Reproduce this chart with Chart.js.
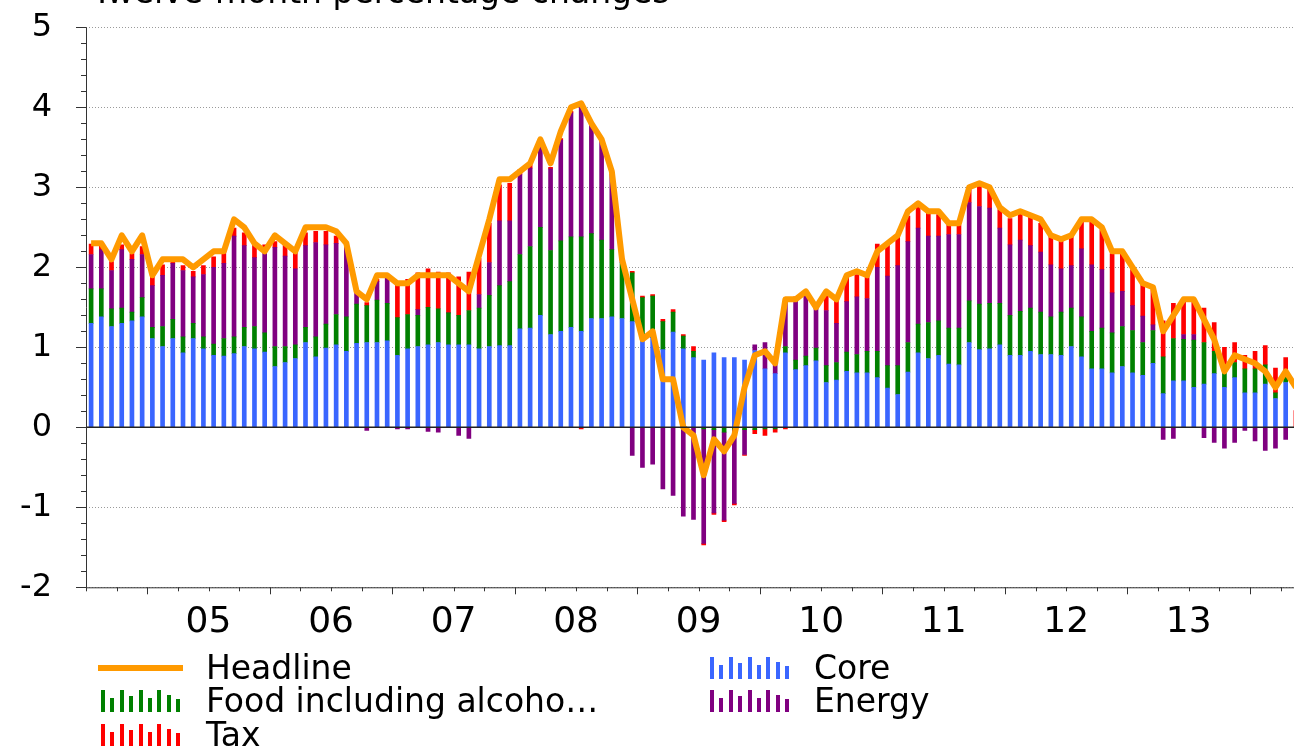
<!DOCTYPE html>
<html lang="en">
<head>
  <meta charset="UTF-8">
  <title>Twelve-month percentage changes</title>
  <style>
  body {
    margin: 0;
    background: #fff;
    overflow: hidden;
    font-family: "DejaVu Sans", sans-serif;
  }

  .page {
    position: relative;
    width: 1310px;
    height: 749px;
  }

  #chart {
    position: absolute;
    left: 0;
    top: 0;
  }

  .title {
    position: absolute;
    left: 92px;
    top: -25px;
    font-size: 33px;
    line-height: 33px;
    white-space: nowrap;
    color: #000;
  }

  .legend-text {
    position: absolute;
    font-size: 33px;
    line-height: 33px;
    white-space: nowrap;
    color: #000;
  }

  .legend-line {
    position: absolute;
    height: 6px;
    width: 85px;
  }

  .legend-bars {
    position: absolute;
    width: 80px;
    height: 24px;
  }

  .legend-bars span {
    position: absolute;
    bottom: 0;
    width: 4px;
  }
  </style>
  <script src="https://cdn.jsdelivr.net/npm/chart.js"></script>
</head>
<body>
  <div class="page">
    <canvas id="chart" width="1310" height="650"></canvas>
    <div class="title">Twelve-month percentage changes</div>

    <div class="legend-line" style="left:98px; top:665px; background:#ff9a00;"></div>
    <div class="legend-text" style="left:206px; top:651px;">Headline</div>
    <div class="legend-bars" id="icon-food" style="left:101px; top:688px;"></div>
    <div class="legend-text" style="left:206px; top:684px;">Food including alcoho…</div>
    <div class="legend-bars" id="icon-tax" style="left:101px; top:722px;"></div>
    <div class="legend-text" style="left:206px; top:718px;">Tax</div>

    <div class="legend-bars" id="icon-core" style="left:710px; top:655px;"></div>
    <div class="legend-text" style="left:814px; top:651px;">Core</div>
    <div class="legend-bars" id="icon-energy" style="left:710px; top:688px;"></div>
    <div class="legend-text" style="left:814px; top:684px;">Energy</div>
  </div>

  <script>
    // monthly data, Jul 2004 .. May 2014
    const startYear = 2004;
    const startMonth = 6; // July (0 = Jan)
    const yearLabels = ['05', '06', '07', '08', '09', '10', '11', '12', '13'];

    const headline = [
      2.3, 2.3, 2.1, 2.4, 2.2, 2.4,                     // Jul-Dec 04
      1.9, 2.1, 2.1, 2.1, 2.0, 2.1, 2.2, 2.2, 2.6, 2.5, 2.3, 2.2,   // 05
      2.4, 2.3, 2.2, 2.5, 2.5, 2.5, 2.45, 2.3, 1.7, 1.6, 1.9, 1.9,  // 06
      1.8, 1.8, 1.9, 1.9, 1.9, 1.9, 1.8, 1.7, 2.15, 2.6, 3.1, 3.1,  // 07
      3.2, 3.3, 3.6, 3.3, 3.7, 4.0, 4.05, 3.8, 3.6, 3.2, 2.1, 1.6,  // 08
      1.1, 1.2, 0.6, 0.6, 0.0, -0.1, -0.6, -0.15, -0.3, -0.1, 0.5, 0.9, // 09
      0.95, 0.8, 1.6, 1.6, 1.7, 1.5, 1.7, 1.6, 1.9, 1.95, 1.9, 2.2,  // 10
      2.3, 2.4, 2.7, 2.8, 2.7, 2.7, 2.55, 2.55, 3.0, 3.05, 3.0, 2.75, // 11
      2.65, 2.7, 2.65, 2.6, 2.4, 2.35, 2.4, 2.6, 2.6, 2.5, 2.2, 2.2, // 12
      2.0, 1.8, 1.75, 1.2, 1.4, 1.6, 1.6, 1.35, 1.1, 0.7, 0.9, 0.85, // 13
      0.8, 0.7, 0.5, 0.7, 0.5                            // Jan-May 14
    ];

    const core = [
      1.30, 1.38, 1.26, 1.30, 1.33, 1.38,
      1.11, 1.01, 1.11, 0.93, 1.11, 0.98, 0.90, 0.89, 0.92, 1.01, 0.98, 0.94,
      0.76, 0.81, 0.86, 1.06, 0.88, 0.99, 1.03, 0.95, 1.05, 1.06, 1.06, 1.08,
      0.90, 0.98, 1.01, 1.03, 1.06, 1.03, 1.03, 1.03, 0.98, 1.01, 1.02, 1.02,
      1.23, 1.24, 1.40, 1.16, 1.20, 1.25, 1.20, 1.36, 1.36, 1.38, 1.36, 1.32,
      1.10, 1.12, 0.97, 1.19, 0.98, 0.87, 0.84, 0.93, 0.87, 0.87, 0.84, 0.96,
      0.73, 0.67, 0.93, 0.72, 0.77, 0.83, 0.56, 0.59, 0.70, 0.68, 0.68, 0.62,
      0.49, 0.41, 0.69, 0.93, 0.86, 0.90, 0.79, 0.78, 1.06, 0.97, 0.98, 1.03,
      0.90, 0.90, 0.95, 0.91, 0.91, 0.90, 1.01, 0.88, 0.73, 0.73, 0.68, 0.76,
      0.68, 0.65, 0.80, 0.42, 0.58, 0.58, 0.50, 0.54, 0.67, 0.50, 0.62, 0.43,
      0.43, 0.54, 0.36, 0.56, null
    ];

    const food = [
      0.43, 0.35, 0.22, 0.19, 0.11, 0.24,
      0.14, 0.25, 0.24, 0.20, 0.19, 0.15, 0.14, 0.22, 0.21, 0.24, 0.28, 0.24,
      0.25, 0.20, 0.17, 0.19, 0.25, 0.30, 0.38, 0.43, 0.49, 0.46, 0.53, 0.47,
      0.47, 0.43, 0.39, 0.47, 0.42, 0.40, 0.37, 0.43, 0.51, 0.64, 0.75, 0.80,
      0.93, 1.02, 1.10, 1.05, 1.13, 1.13, 1.18, 1.06, 0.98, 0.84, 0.70, 0.61,
      0.52, 0.52, 0.35, 0.25, 0.16, 0.08, -0.02, -0.03, -0.06, -0.03, -0.03, -0.03,
      -0.02, -0.02, 0.08, 0.12, 0.12, 0.16, 0.21, 0.22, 0.24, 0.23, 0.27, 0.33,
      0.28, 0.36, 0.37, 0.36, 0.45, 0.43, 0.45, 0.46, 0.52, 0.57, 0.57, 0.52,
      0.50, 0.55, 0.54, 0.53, 0.47, 0.54, 0.48, 0.50, 0.47, 0.51, 0.50, 0.50,
      0.53, 0.41, 0.41, 0.46, 0.53, 0.52, 0.59, 0.52, 0.28, 0.19, 0.19, 0.30,
      0.30, 0.24, 0.07, 0.08, null
    ];

    const energy = [
      0.43, 0.49, 0.48, 0.73, 0.66, 0.54,
      0.52, 0.64, 0.70, 0.83, 0.58, 0.78, 0.96, 0.94, 1.26, 1.02, 0.86, 1.01,
      1.24, 1.13, 0.95, 1.02, 1.18, 0.99, 0.89, 0.88, 0.16, -0.04, 0.23, 0.33,
      -0.02, -0.02, 0.07, -0.05, -0.06, 0.00, -0.10, -0.14, 0.17, 0.41, 0.81, 0.76,
      1.00, 0.98, 1.03, 1.02, 1.26, 1.55, 1.63, 1.38, 1.25, 0.94, 0.05, -0.35,
      -0.50, -0.46, -0.77, -0.85, -1.11, -1.15, -1.43, -1.04, -1.10, -0.92, -0.31, 0.07,
      0.33, 0.16, 0.59, 0.78, 0.75, 0.49, 0.69, 0.49, 0.63, 0.72, 0.66, 1.05,
      1.12, 1.25, 1.26, 1.20, 1.08, 1.06, 1.17, 1.17, 1.23, 1.22, 1.19, 0.94,
      0.88, 0.89, 0.78, 0.75, 0.65, 0.54, 0.53, 0.85, 0.83, 0.73, 0.50, 0.44,
      0.31, 0.33, 0.07, -0.15, -0.14, 0.06, 0.07, -0.13, -0.19, -0.26, -0.19, -0.04,
      -0.17, -0.29, -0.26, -0.15, null
    ];

    const tax = [
      0.13, 0.05, 0.11, 0.06, 0.07, 0.10,
      0.12, 0.13, 0.03, 0.06, 0.07, 0.11, 0.13, 0.16, 0.10, 0.16, 0.16, 0.09,
      0.07, 0.14, 0.24, 0.16, 0.14, 0.17, 0.09, 0.04, 0.02, 0.04, 0.03, 0.03,
      0.45, 0.44, 0.46, 0.48, 0.46, 0.50, 0.48, 0.48, 0.45, 0.49, 0.45, 0.47,
      0.06, 0.04, 0.03, 0.02, 0.02, 0.02, -0.02, 0.00, 0.00, 0.00, 0.00, 0.02,
      0.02, 0.02, 0.03, 0.03, 0.02, 0.06, -0.02, -0.02, -0.02, -0.02, -0.01, -0.05,
      -0.08, -0.04, -0.02, 0.01, 0.02, 0.02, 0.20, 0.28, 0.32, 0.28, 0.28, 0.29,
      0.39, 0.37, 0.32, 0.27, 0.31, 0.27, 0.12, 0.12, 0.16, 0.25, 0.25, 0.23,
      0.33, 0.36, 0.36, 0.36, 0.36, 0.36, 0.37, 0.37, 0.56, 0.50, 0.49, 0.47,
      0.45, 0.43, 0.44, 0.45, 0.44, 0.41, 0.41, 0.43, 0.36, 0.31, 0.25, 0.17,
      0.22, 0.24, 0.31, 0.23, 0.21
    ];

    const months = headline.map((_, i) => {
      const m = startMonth + i;
      return (startYear + Math.floor(m / 12)) + '-' + String(m % 12 + 1).padStart(2, '0');
    });

    // legend icons
    const iconHeights = [22, 14, 22, 16, 22, 14, 22, 17, 13];
    function makeIcon(id, color) {
      const box = document.getElementById(id);
      iconHeights.forEach((h, i) => {
        const s = document.createElement('span');
        s.style.left = (i * 9.4) + 'px';
        s.style.height = h + 'px';
        s.style.background = color;
        box.appendChild(s);
      });
    }
    makeIcon('icon-core', '#3a66ff');
    makeIcon('icon-food', '#008000');
    makeIcon('icon-energy', '#800080');
    makeIcon('icon-tax', '#ff0000');

    // grid lines, zero line, axes and minor ticks
    const decor = {
      id: 'decor',
      beforeDatasetsDraw(chart) {
        const { ctx, chartArea: a, scales: { y } } = chart;
        ctx.save();
        ctx.strokeStyle = '#9a9a9a';
        ctx.lineWidth = 1;
        ctx.setLineDash([1, 2]);
        for (let v = -2; v <= 5; v++) {
          if (v === 0) continue;
          const py = Math.round(y.getPixelForValue(v)) + 0.5;
          ctx.beginPath();
          ctx.moveTo(a.left, py);
          ctx.lineTo(a.right, py);
          ctx.stroke();
        }
        ctx.restore();
      },
      afterDatasetsDraw(chart) {
        const { ctx, chartArea: a, scales: { x, y } } = chart;
        ctx.save();
        ctx.strokeStyle = '#222';
        ctx.lineWidth = 1.5;
        const zy = y.getPixelForValue(0);
        ctx.beginPath();
        ctx.moveTo(a.left, zy);
        ctx.lineTo(a.right, zy);
        ctx.stroke();

        ctx.lineWidth = 1;
        ctx.strokeStyle = '#333';
        ctx.beginPath();
        ctx.moveTo(a.left + 0.5, a.top);
        ctx.lineTo(a.left + 0.5, a.bottom);
        ctx.moveTo(a.left, a.bottom + 0.5);
        ctx.lineTo(a.right, a.bottom + 0.5);
        // y ticks
        for (let k = 0; k <= 35; k++) {
          const v = -2 + k * 0.2;
          const py = Math.round(y.getPixelForValue(v)) + 0.5;
          const len = k % 5 === 0 ? 10 : 5;
          ctx.moveTo(a.left - len, py);
          ctx.lineTo(a.left, py);
        }
        // x ticks at quarter starts
        const band = x.width / months.length;
        for (let i = 0; i <= months.length; i++) {
          const m = (startMonth + i) % 12;
          if (m % 3 !== 0) continue;
          const px = Math.round(x.getPixelForValue(i) - band / 2) + 0.5;
          const len = m === 0 ? 7 : 4;
          ctx.moveTo(px, a.bottom);
          ctx.lineTo(px, a.bottom + len);
        }
        ctx.stroke();
        ctx.restore();
      }
    };

    Chart.defaults.font.family = '"DejaVu Sans", sans-serif';
    Chart.defaults.color = '#000';

    const barBase = { type: 'bar', stack: 'parts', barThickness: 4, order: 1 };

    new Chart(document.getElementById('chart'), {
      type: 'bar',
      data: {
        labels: months,
        datasets: [
          {
            type: 'line',
            label: 'Headline',
            data: headline,
            stack: 'headline',
            borderColor: '#ff9a00',
            borderWidth: 6,
            borderJoinStyle: 'round',
            pointRadius: 0,
            tension: 0,
            order: 0
          },
          { ...barBase, label: 'Core', data: core, backgroundColor: '#3a66ff' },
          { ...barBase, label: 'Food including alcohol', data: food, backgroundColor: '#008000' },
          { ...barBase, label: 'Energy', data: energy, backgroundColor: '#800080' },
          { ...barBase, label: 'Tax', data: tax, backgroundColor: '#ff0000' }
        ]
      },
      options: {
        responsive: false,
        animation: false,
        devicePixelRatio: 1,
        layout: { padding: { top: 27.3, right: 9, left: 0, bottom: 0 } },
        plugins: {
          legend: { display: false },
          tooltip: { enabled: false }
        },
        scales: {
          x: {
            stacked: true,
            offset: true,
            grid: { display: false, drawTicks: false },
            border: { display: false },
            ticks: {
              autoSkip: false,
              maxRotation: 0,
              minRotation: 0,
              padding: 14,
              labelOffset: -5.1,
              font: { size: 36 },
              callback: (value, index) => {
                if (index % 12 !== 0 || index === 0) return '';
                return yearLabels[index / 12 - 1] || '';
              }
            },
            afterFit: (s) => { s.height = 650 - 587.3; }
          },
          y: {
            stacked: true,
            min: -2,
            max: 5,
            grid: { display: false, drawTicks: false },
            border: { display: false },
            ticks: { stepSize: 1, padding: 34, font: { size: 32 } },
            afterFit: (s) => {
              s.width = 86;
              s.paddingTop = 0;
              s.paddingBottom = 0;
            }
          }
        }
      },
      plugins: [decor]
    });
  </script>
</body>
</html>
